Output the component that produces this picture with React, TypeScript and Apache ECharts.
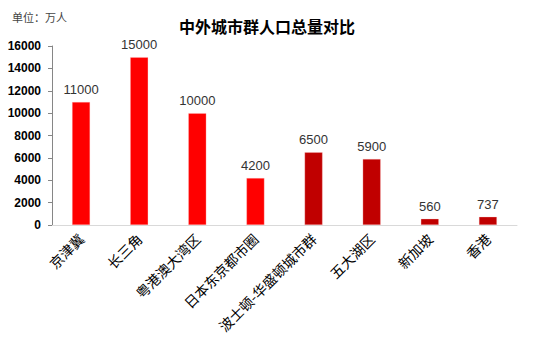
import React, { useEffect, useRef } from "react";
import * as echarts from "echarts";

const categories = ["京津冀", "长三角", "粤港澳大湾区", "日本东京都市圈", "波士顿-华盛顿城市群", "五大湖区", "新加坡", "香港"];
const populations = [11000, 15000, 10000, 4200, 6500, 5900, 560, 737];
const barColors = ["#FF0000", "#FF0000", "#FF0000", "#FF0000", "#C00000", "#C00000", "#C00000", "#C00000"];
const yTicks = [0, 2000, 4000, 6000, 8000, 10000, 12000, 14000, 16000];

export default function App() {
  const ref = useRef<HTMLDivElement>(null);
  useEffect(() => {
    if (!ref.current) return;
    const chart = echarts.init(ref.current, null, { renderer: "svg" });
    chart.setOption({
      animation: false,
      backgroundColor: "#ffffff",
      title: [
        {
          text: "中外城市群人口总量对比",
          left: 262,
          textAlign: "center",
          top: 13,
          textStyle: { fontFamily: "Noto Sans CJK SC", fontSize: 16, fontWeight: "bold", color: "#000" },
        },
        {
          text: "单位：万人",
          left: 7,
          top: 6,
          textStyle: { fontFamily: "Noto Sans CJK SC", fontSize: 11, fontWeight: "normal", color: "#444" },
        },
      ],
      grid: { left: 52, right: 32, top: 46, bottom: 121, containLabel: false },
      xAxis: {
        type: "category",
        data: categories,
        axisLine: { lineStyle: { color: "#d9d9d9", width: 1 } },
        axisTick: { show: false },
        axisLabel: {
          rotate: 45,
          interval: 0,
          margin: 11,
          fontFamily: "Noto Sans CJK SC",
          fontSize: 14,
          fontWeight: "normal",
          color: "#000",
        },
      },
      yAxis: {
        type: "value",
        min: yTicks[0],
        max: yTicks[yTicks.length - 1],
        interval: 2000,
        splitLine: { show: false },
        axisLine: { show: true, lineStyle: { color: "#868686" } },
        axisTick: { show: true, inside: false, length: 4, lineStyle: { color: "#868686" } },
        axisLabel: {
          margin: 11,
          fontFamily: "Liberation Sans",
          fontSize: 12,
          fontWeight: "bold",
          color: "#000",
          formatter: (v: number) => String(v),
        },
      },
      series: [
        {
          type: "bar",
          data: populations.map((v, i) => ({ value: v, itemStyle: { color: barColors[i] } })),
          barWidth: "31%",
          itemStyle: { borderColor: "rgba(255,200,200,0.6)", borderWidth: 0.5 },
          label: {
            show: true,
            position: "top",
            distance: 6,
            fontFamily: "Liberation Sans",
            fontSize: 13,
            color: "#333",
          },
        },
      ],
    });
    return () => chart.dispose();
  }, []);
  return <div ref={ref} style={{ position: "absolute", left: 0, top: 0, width: 549, height: 346 }} />;
}
